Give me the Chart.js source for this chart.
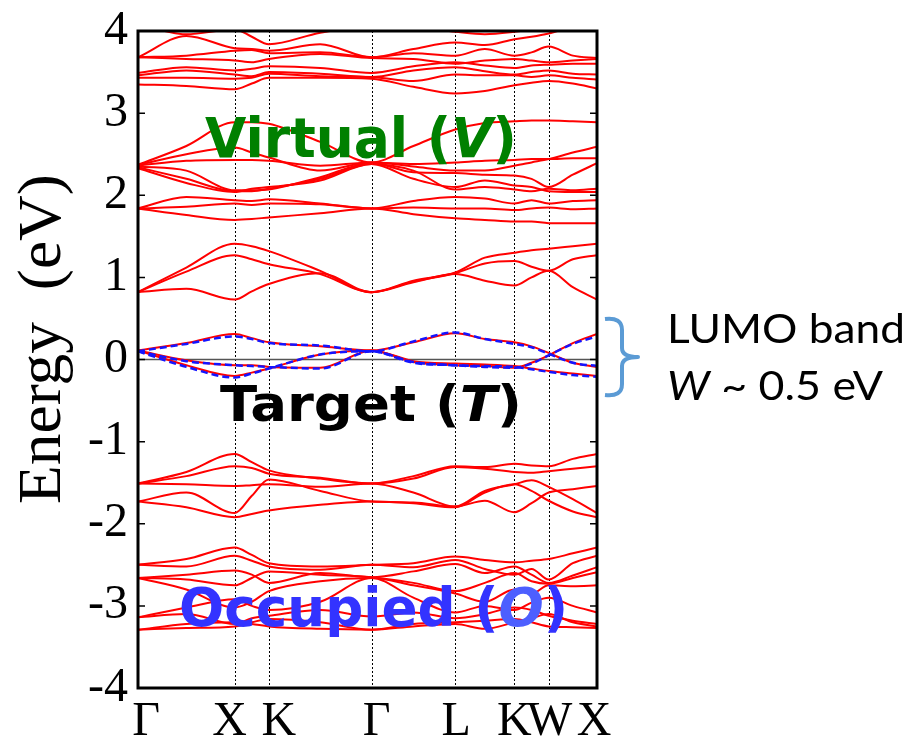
<!DOCTYPE html>
<html>
<head>
<meta charset="utf-8">
<script src="https://cdn.jsdelivr.net/npm/chart.js@4.4.1/dist/chart.umd.min.js"></script>
<style>
  html, body { margin: 0; padding: 0; background: #fff; }
  #wrap { width: 912px; height: 741px; }
</style>
</head>
<body>
<div id="wrap"><canvas id="bands" width="912" height="741"></canvas></div>
<script>
// k path (units of 2pi/a) : sample points used for every band
const kPoints = [0, 0.5, 1, 1.177, 1.354, 1.885, 2.415, 2.848, 3.281, 3.587, 3.893, 4.07, 4.247, 4.497, 4.747];
const kLabelPos = [0, 1, 1.354, 2.415, 3.281, 3.893, 4.247, 4.747];
const kLabels = ["Γ", "X", "K", "Γ", "L", "K", "W", "X"];
const energyTicks = [-4, -3, -2, -1, 0, 1, 2, 3, 4];

// virtual bands, 3.2 - 4 eV
const t1 = [3.68, 3.94, 3.79, 3.78, 3.76, 3.84, 3.68, 3.78, 3.86, 3.83, 3.90, 3.93, 3.97, 4.05, 4.10];
const t2 = [3.68, 3.70, 3.76, 3.77, 3.73, 3.74, 3.68, 3.73, 3.70, 3.78, 3.70, 3.74, 3.81, 3.70, 3.67];
const t3 = [3.68, 3.66, 3.64, 3.62, 3.66, 3.72, 3.67, 3.66, 3.60, 3.64, 3.66, 3.64, 3.62, 3.64, 3.66];
const t4 = [3.49, 3.56, 3.52, 3.54, 3.57, 3.55, 3.49, 3.57, 3.62, 3.58, 3.55, 3.58, 3.59, 3.60, 3.60];
const t5 = [3.46, 3.52, 3.47, 3.45, 3.50, 3.48, 3.44, 3.52, 3.56, 3.51, 3.47, 3.50, 3.52, 3.48, 3.47];
const t6 = [3.43, 3.43, 3.42, 3.43, 3.48, 3.45, 3.44, 3.39, 3.47, 3.46, 3.46, 3.44, 3.46, 3.43, 3.41];
const t7 = [3.35, 3.33, 3.29, 3.36, 3.43, 3.43, 3.42, 3.32, 3.24, 3.27, 3.34, 3.37, 3.39, 3.36, 3.30];
const t8 = [4.08, 3.96, 4.02, 3.93, 3.84, 3.98, 4.06, 4.05, 3.99, 3.96, 3.99, 4.02, 4.06, 4.10, 4.12];

// virtual bands, 1.6 - 2.9 eV
const vA = [2.37, 2.60, 2.89, 2.89, 2.87, 2.65, 2.40, 2.60, 2.80, 2.88, 2.90, 2.91, 2.91, 2.90, 2.89];
const vB = [2.37, 2.50, 2.58, 2.52, 2.46, 2.30, 2.40, 2.35, 2.30, 2.30, 2.36, 2.40, 2.44, 2.52, 2.59];
const vC = [2.36, 2.42, 2.43, 2.43, 2.42, 2.36, 2.40, 2.38, 2.40, 2.42, 2.43, 2.44, 2.44, 2.45, 2.45];
const vD = [2.35, 2.30, 2.06, 2.06, 2.07, 2.22, 2.39, 2.28, 2.27, 2.25, 2.24, 2.20, 2.10, 2.25, 2.39];
const vE = [2.34, 2.20, 2.05, 2.05, 2.08, 2.20, 2.38, 2.30, 2.07, 2.10, 2.07, 2.05, 2.08, 2.06, 2.08];
const vF = [2.33, 2.15, 2.04, 2.08, 2.10, 2.18, 2.38, 2.20, 2.10, 2.18, 2.12, 2.10, 2.05, 2.04, 2.04];
const vG = [1.84, 1.98, 1.94, 1.93, 1.95, 1.90, 1.84, 1.93, 1.98, 1.96, 1.90, 1.94, 1.90, 1.93, 1.94];
const vH = [1.84, 1.86, 1.90, 1.88, 1.90, 1.89, 1.84, 1.85, 1.84, 1.84, 1.82, 1.84, 1.85, 1.83, 1.84];
const vI = [1.84, 1.76, 1.70, 1.71, 1.73, 1.78, 1.84, 1.77, 1.72, 1.70, 1.68, 1.68, 1.66, 1.66, 1.66];

// virtual bands, 0.7 - 1.4 eV
const wA = [0.82, 1.12, 1.41, 1.38, 1.32, 1.08, 0.82, 0.96, 1.06, 1.24, 1.30, 1.33, 1.35, 1.38, 1.41];
const wB = [0.82, 1.07, 1.27, 1.22, 1.16, 1.04, 0.82, 0.95, 1.05, 1.17, 1.20, 1.13, 1.08, 1.22, 1.27];
const wC = [0.82, 0.86, 0.73, 0.83, 0.92, 1.05, 0.82, 0.94, 1.04, 0.96, 0.90, 1.00, 1.08, 0.88, 0.73];

// target (LUMO) bands: DFT (red) and fitted (blue dashed)
const lumoU = [0.11, 0.20, 0.31, 0.26, 0.21, 0.16, 0.11, 0.21, 0.32, 0.25, 0.21, 0.16, 0.08, -0.04, -0.09];
const lumoM = [0.11, -0.01, -0.07, -0.07, -0.09, -0.10, 0.11, -0.02, -0.05, -0.06, -0.08, -0.11, -0.14, -0.17, -0.20];
const lumoL = [0.11, -0.07, -0.20, -0.16, -0.11, 0.06, 0.11, -0.03, -0.07, -0.08, -0.10, -0.04, 0.05, 0.20, 0.31];
const fitU = [0.10, 0.19, 0.28, 0.25, 0.20, 0.17, 0.10, 0.22, 0.33, 0.25, 0.19, 0.15, 0.07, -0.04, -0.08];
const fitM = [0.10, -0.02, -0.07, -0.08, -0.09, -0.11, 0.10, -0.03, -0.07, -0.08, -0.09, -0.12, -0.15, -0.19, -0.21];
const fitL = [0.10, -0.09, -0.22, -0.17, -0.11, 0.06, 0.10, -0.04, -0.07, -0.09, -0.10, -0.05, 0.05, 0.19, 0.28];

// occupied bands, -1.1 to -1.9 eV
const h1 = [-1.51, -1.37, -1.15, -1.25, -1.35, -1.45, -1.51, -1.42, -1.30, -1.31, -1.27, -1.29, -1.30, -1.21, -1.15];
const h2 = [-1.51, -1.42, -1.30, -1.32, -1.39, -1.44, -1.51, -1.45, -1.31, -1.33, -1.37, -1.38, -1.36, -1.33, -1.30];
const h3 = [-1.51, -1.52, -1.54, -1.53, -1.52, -1.55, -1.51, -1.62, -1.79, -1.60, -1.52, -1.47, -1.55, -1.70, -1.87];
const h4 = [-1.73, -1.62, -1.87, -1.66, -1.46, -1.60, -1.73, -1.74, -1.79, -1.72, -1.86, -1.75, -1.62, -1.58, -1.54];
const h5 = [-1.73, -1.80, -1.92, -1.88, -1.84, -1.77, -1.73, -1.75, -1.80, -1.62, -1.52, -1.60, -1.72, -1.85, -1.92];

// occupied bands, -2.3 to -3.3 eV
const o1 = [-2.50, -2.43, -2.29, -2.38, -2.48, -2.52, -2.50, -2.48, -2.40, -2.44, -2.47, -2.45, -2.43, -2.36, -2.29];
const o2 = [-2.50, -2.52, -2.39, -2.45, -2.52, -2.56, -2.50, -2.53, -2.44, -2.55, -2.62, -2.55, -2.68, -2.48, -2.39];
const o3 = [-2.66, -2.62, -2.57, -2.62, -2.72, -2.60, -2.65, -2.58, -2.49, -2.60, -2.52, -2.62, -2.72, -2.63, -2.53];
const o4 = [-2.66, -2.68, -2.75, -2.66, -2.58, -2.62, -2.65, -2.72, -2.82, -2.72, -2.60, -2.70, -2.73, -2.66, -2.59];
const o5 = [-2.66, -2.80, -3.02, -2.95, -2.82, -2.70, -2.66, -2.75, -2.85, -2.95, -2.80, -2.85, -2.75, -2.76, -2.75];
const o6 = [-3.14, -3.02, -2.92, -3.00, -3.05, -2.95, -2.66, -2.90, -3.08, -3.00, -3.05, -2.96, -2.90, -3.00, -3.08];
const o7 = [-3.14, -3.10, -3.22, -3.15, -3.12, -3.05, -3.13, -3.08, -3.15, -3.10, -3.02, -3.05, -3.12, -3.18, -3.22];
const o8 = [-3.29, -3.27, -3.25, -3.20, -3.16, -3.20, -3.29, -3.22, -3.20, -3.18, -3.16, -3.20, -3.25, -3.26, -3.27];
const o9 = [-3.29, -3.22, -3.20, -3.22, -3.25, -3.28, -3.29, -3.25, -3.22, -3.28, -3.20, -3.15, -3.10, -3.20, -3.25];

const redBands = [t1, t2, t3, t4, t5, t6, t7, t8, vA, vB, vC, vD, vE, vF, vG, vH, vI,
  wA, wB, wC, lumoU, lumoM, lumoL, h1, h2, h3, h4, h5, o1, o2, o3, o4, o5, o6, o7, o8, o9];
const fitBands = [fitU, fitM, fitL];

const toPoints = (band) => kPoints.map((k, i) => ({ x: k, y: band[i] }));

const datasets = [];
fitBands.forEach((b) => {
  datasets.push({
    data: toPoints(b),
    borderColor: "rgb(20, 20, 255)",
    borderWidth: 2.5,
    borderDash: [7, 4],
    pointRadius: 0,
    cubicInterpolationMode: "monotone",
    order: 0,
  });
});
redBands.forEach((b) => {
  datasets.push({
    data: toPoints(b),
    borderColor: "rgb(255, 0, 0)",
    borderWidth: 2,
    pointRadius: 0,
    cubicInterpolationMode: "monotone",
    order: 1,
  });
});

// draws text pieces (with mixed italic) stretched to a given width
function drawParts(ctx, parts, x, y, size, family, width) {
  let total = 0;
  parts.forEach((p) => {
    ctx.font = (p.italic ? "italic " : "") + (p.weight || "bold") + " " + size + "px " + family;
    p.w = ctx.measureText(p.t).width;
    total += p.w;
  });
  const sx = width ? width / total : 1;
  ctx.save();
  ctx.translate(x, y);
  ctx.scale(sx, 1);
  ctx.textAlign = "left";
  ctx.textBaseline = "alphabetic";
  let cx = 0;
  parts.forEach((p) => {
    ctx.font = (p.italic ? "italic " : "") + (p.weight || "bold") + " " + size + "px " + family;
    ctx.fillStyle = p.color;
    ctx.fillText(p.t, cx, 0);
    cx += p.w;
  });
  ctx.restore();
}

// small nudges of the k labels, as placed in the original figure
const labelNudge = [8, -5, 10, 5, 1, 0, 1, -3];

const decor = {
  id: "decor",
  beforeDatasetsDraw(chart) {
    const { ctx, chartArea: a, scales } = chart;
    ctx.save();
    // dotted lines at high symmetry points
    ctx.strokeStyle = "#000";
    ctx.lineWidth = 1;
    ctx.setLineDash([2, 2]);
    kLabelPos.slice(1, -1).forEach((k) => {
      const px = Math.round(scales.x.getPixelForValue(k)) + 0.5;
      ctx.beginPath();
      ctx.moveTo(px, a.top);
      ctx.lineTo(px, a.bottom);
      ctx.stroke();
    });
    ctx.setLineDash([]);
    // zero line
    ctx.strokeStyle = "#555";
    ctx.lineWidth = 1.5;
    const y0 = scales.y.getPixelForValue(0);
    ctx.beginPath();
    ctx.moveTo(a.left, y0);
    ctx.lineTo(a.right, y0);
    ctx.stroke();
    ctx.restore();
  },
  afterDatasetsDraw(chart) {
    const { ctx, chartArea: a, scales } = chart;
    ctx.save();
    // frame
    ctx.strokeStyle = "#000";
    ctx.lineWidth = 3;
    ctx.strokeRect(a.left, a.top, a.right - a.left, a.bottom - a.top);
    // inward ticks
    ctx.lineWidth = 1.5;
    energyTicks.forEach((e) => {
      const py = scales.y.getPixelForValue(e);
      ctx.beginPath();
      ctx.moveTo(a.left, py);
      ctx.lineTo(a.left + 7, py);
      ctx.moveTo(a.right, py);
      ctx.lineTo(a.right - 7, py);
      ctx.stroke();
    });

    // k point labels
    ctx.fillStyle = "#000";
    ctx.font = "48px 'Liberation Serif'";
    ctx.textAlign = "center";
    ctx.textBaseline = "alphabetic";
    kLabelPos.forEach((k, i) => {
      ctx.fillText(kLabels[i], scales.x.getPixelForValue(k) + labelNudge[i], a.bottom + 47);
    });

    const sans = "'DejaVu Sans'";
    drawParts(ctx, [
      { t: "Virtual (", color: "#008000" },
      { t: "V", color: "#008000", italic: true },
      { t: ")", color: "#008000" },
    ], 205, 157, 55, sans, 312);
    drawParts(ctx, [
      { t: "Target (", color: "#000" },
      { t: "T", color: "#000", italic: true },
      { t: ")", color: "#000" },
    ], 220, 421, 49, sans, 302);
    drawParts(ctx, [
      { t: "Occupied (", color: "#3333ff" },
      { t: "O", color: "#4d5fff", italic: true },
      { t: ")", color: "#3333ff" },
    ], 179, 626, 54, sans, 389);

    // LUMO band bracket
    ctx.strokeStyle = "rgb(91, 155, 213)";
    ctx.lineWidth = 4;
    ctx.lineJoin = "round";
    ctx.beginPath();
    ctx.moveTo(605, 319);
    ctx.quadraticCurveTo(622, 317, 622, 330);
    ctx.lineTo(622, 348);
    ctx.quadraticCurveTo(622, 357, 638, 357);
    ctx.quadraticCurveTo(622, 357, 622, 366);
    ctx.lineTo(622, 384);
    ctx.quadraticCurveTo(622, 397, 605, 395);
    ctx.stroke();

    const lato = "Lato";
    drawParts(ctx, [{ t: "LUMO band", color: "#000", weight: "normal" }], 667, 343, 41, lato, 238);
    drawParts(ctx, [
      { t: "W", color: "#000", weight: "normal", italic: true },
      { t: " ~ 0.5 eV", color: "#000", weight: "normal" },
    ], 667, 400, 41, lato, 216);

    // y axis title
    ctx.save();
    ctx.translate(60, 339);
    ctx.rotate(-Math.PI / 2);
    ctx.font = "62px 'Liberation Serif'";
    const tw = ctx.measureText("Energy  (eV)").width;
    ctx.scale(330 / tw, 1);
    ctx.textAlign = "center";
    ctx.textBaseline = "alphabetic";
    ctx.fillStyle = "#000";
    ctx.fillText("Energy  (eV)", 0, 0);
    ctx.restore();

    ctx.restore();
  },
};

new Chart(document.getElementById("bands"), {
  type: "line",
  data: { datasets: datasets },
  plugins: [decor],
  options: {
    responsive: false,
    animation: false,
    devicePixelRatio: 1,
    layout: { padding: { top: 31, right: 315, bottom: 0, left: 0 } },
    plugins: {
      legend: { display: false },
      tooltip: { enabled: false },
    },
    scales: {
      x: {
        type: "linear",
        min: 0,
        max: 4.747,
        afterFit: (s) => { s.height = 53; s.paddingLeft = 0; s.paddingRight = 0; },
        afterBuildTicks: (s) => { s.ticks = kLabelPos.map((v) => ({ value: v })); },
        grid: { display: false, drawTicks: false },
        border: { display: false },
        ticks: { display: false },
      },
      y: {
        min: -4,
        max: 4,
        afterFit: (s) => { s.width = 138; s.paddingTop = 0; s.paddingBottom = 0; },
        grid: { display: false, drawTicks: false },
        border: { display: false },
        ticks: {
          stepSize: 1,
          padding: 10,
          color: "#000",
          font: { family: "'Liberation Serif'", size: 48 },
          callback: (v) => String(v),
        },
      },
    },
  },
});
</script>
</body>
</html>
